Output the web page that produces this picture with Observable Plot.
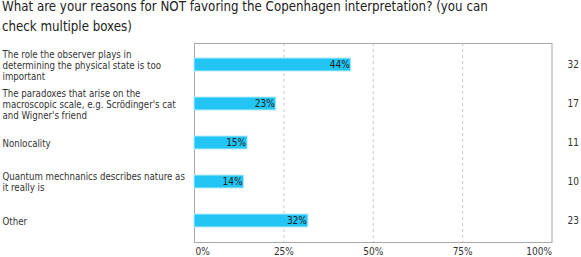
<!DOCTYPE html>
<html>
<head>
<meta charset="utf-8">
<script src="https://cdn.jsdelivr.net/npm/d3@7"></script>
<script src="https://cdn.jsdelivr.net/npm/@observablehq/plot@0.6"></script>
<style>
  html, body { margin: 0; padding: 0; background: #fff; }
  #title { height: 40px; overflow: visible; font-family: "DejaVu Sans Condensed", "DejaVu Sans", sans-serif; font-size: 13.2px; line-height: 20px; color: #222; }
  #title div { position: relative; top: -2.9px; left: 2px; white-space: nowrap; }
  #chart svg { display: block; }
</style>
</head>
<body>
<div id="title"><div>What are your reasons for NOT favoring the Copenhagen interpretation? (you can<br>check multiple boxes)</div></div>
<div id="chart"></div>
<script>
const categories = [
  "The role the observer plays in\ndetermining the physical state is too\nimportant",
  "The paradoxes that arise on the\nmacroscopic scale, e.g. Scrödinger's cat\nand Wigner's friend",
  "Nonlocality",
  "Quantum mechnanics describes nature as\nit really is",
  "Other"
];
const percents = [44, 23, 15, 14, 32];
const counts = [32, 17, 11, 10, 23];
const xTicks = [0, 25, 50, 75, 100];
const xTickLabels = ["0%", "25%", "50%", "75%", "100%"];

const rows = categories.map((c, i) => ({category: c, pct: percents[i], count: counts[i]}));
const ticks = xTicks.map((t, i) => ({t, label: xTickLabels[i]}));
const font = "DejaVu Sans Condensed, DejaVu Sans, sans-serif";

const chart = Plot.plot({
  width: 581,
  height: 217,
  marginTop: 3,
  marginBottom: 15,
  marginLeft: 194,
  marginRight: 29.5,
  style: {fontFamily: font, fontSize: "10px", color: "#333", background: "#fff"},
  x: {domain: [0, 100], axis: null},
  y: {domain: categories, axis: null, paddingInner: 0.67, paddingOuter: 0.335},
  marks: [
    Plot.ruleX(xTicks.filter(t => t > 0 && t < 100), {stroke: "#c8c8c8", strokeDasharray: "3,3"}),
    Plot.frame({stroke: "#a8a8a8"}),
    Plot.barX(rows, {x: "pct", y: "category", fill: "#22c5f3", stroke: "#b8ecfb", strokeWidth: 1, insetRight: 0.5}),
    Plot.text(rows, {x: "pct", y: "category", text: d => d.pct + "%", textAnchor: "end", dx: -2, fill: "#222", fontSize: 10}),
    Plot.text(rows, {x: 0, y: "category", text: "category", textAnchor: "start", dx: -192, fill: "#333", fontSize: 9.6, lineHeight: 1.15}),
    Plot.text(rows, {x: 100, y: "category", text: d => String(d.count), textAnchor: "start", dx: 15.5, fill: "#333", fontSize: 10}),
    Plot.text(ticks.filter(d => d.t === 0), {x: "t", text: "label", frameAnchor: "bottom", dy: 12, textAnchor: "start", dx: 1, fill: "#333", fontSize: 10}),
    Plot.text(ticks.filter(d => d.t > 0 && d.t < 100), {x: "t", text: "label", frameAnchor: "bottom", dy: 12, textAnchor: "middle", fill: "#333", fontSize: 10}),
    Plot.text(ticks.filter(d => d.t === 100), {x: "t", text: "label", frameAnchor: "bottom", dy: 12, textAnchor: "end", fill: "#333", fontSize: 10})
  ]
});
document.getElementById("chart").appendChild(chart);
</script>
</body>
</html>
